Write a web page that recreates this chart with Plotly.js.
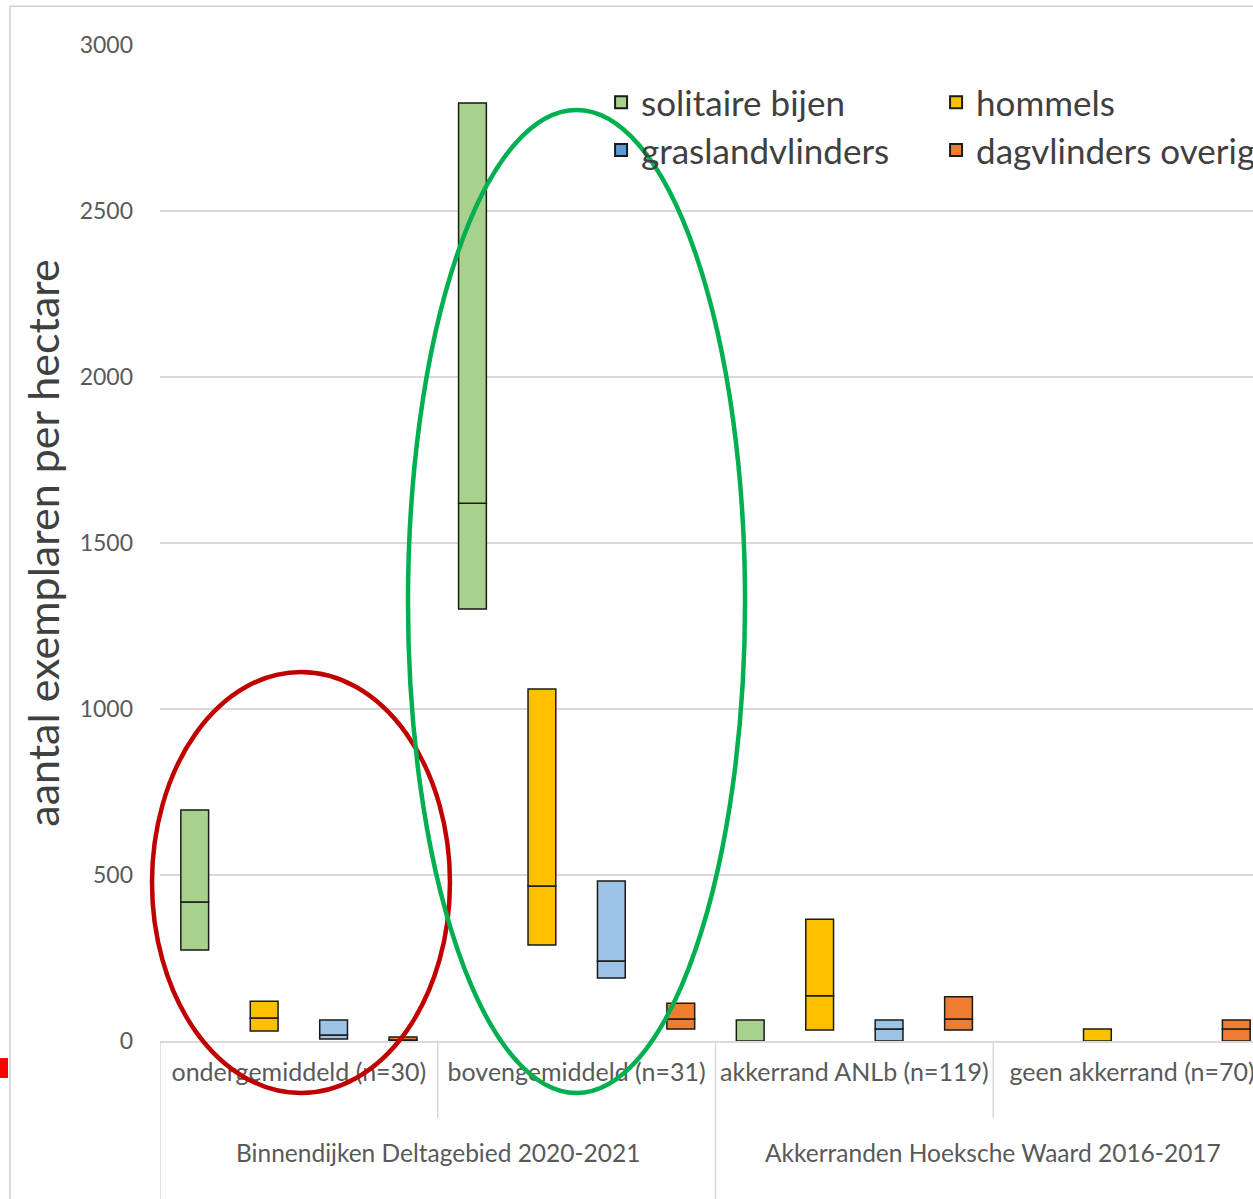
<!DOCTYPE html>
<html>
<head>
<meta charset="utf-8">
<script src="https://cdn.plot.ly/plotly-3.0.1.min.js"></script>
<style>
html,body{margin:0;padding:0;overflow:hidden;background:#fff;}
#chart{width:1300px;height:1199px;}
</style>
</head>
<body>
<div id="chart"></div>
<script>
// ---- data ----
var categories = ['ondergemiddeld (n=30)', 'bovengemiddeld (n=31)', 'akkerrand ANLb (n=119)', 'geen akkerrand (n=70)'];
var groups = ['Binnendijken Deltagebied 2020-2021', 'Akkerranden Hoeksche Waard 2016-2017'];
var seriesNames = ['solitaire bijen', 'hommels', 'graslandvlinders', 'dagvlinders overig'];

var bijenLow  = [274, 1301, 0, null];
var bijenMed  = [419, 1620, 0, null];
var bijenHigh = [696, 2825, 63, null];

var hommelsLow  = [30, 289, 33, 0];
var hommelsMed  = [69, 467, 136, 0];
var hommelsHigh = [120, 1060, 367, 36];

var grasLow  = [6, 190, 0, null];
var grasMed  = [18, 241, 36, null];
var grasHigh = [63, 482, 63, null];

var dagLow  = [0, 36, 33, 0];
var dagMed  = [3, 66, 66, 36];
var dagHigh = [12, 114, 133, 63];

// ---- styling ----
var barColors = ['#a9d18e', '#ffc000', '#9dc3e6', '#ed7d31'];
var legendColors = ['#a9d18e', '#ffc000', '#5b9bd5', '#ed7d31'];
var offsets = [-0.425, -0.175, 0.075, 0.325];
var barWidth = 0.1;
var FONT = 'Lato, "Open Sans", sans-serif';
var GREY = '#595959';

var lows = [bijenLow, hommelsLow, grasLow, dagLow];
var meds = [bijenMed, hommelsMed, grasMed, dagMed];
var highs = [bijenHigh, hommelsHigh, grasHigh, dagHigh];

function diff(a, b) {
  return a.map(function (v, i) {
    if (v === null || b[i] === null) return null;
    var d = b[i] - v;
    return d > 0 ? d : null;
  });
}

var traces = [];
for (var s = 0; s < 4; s++) {
  // lower part: low -> median
  traces.push({
    type: 'bar', x: categories, base: lows[s], y: diff(lows[s], meds[s]),
    width: barWidth, offset: offsets[s], showlegend: false, hoverinfo: 'skip',
    marker: {color: barColors[s], line: {color: '#1a1a1a', width: 1.5}}
  });
  // upper part: median -> high
  traces.push({
    type: 'bar', x: categories, base: meds[s], y: diff(meds[s], highs[s]),
    width: barWidth, offset: offsets[s], showlegend: false, hoverinfo: 'skip',
    marker: {color: barColors[s], line: {color: '#1a1a1a', width: 1.5}}
  });
}
// legend entries
for (var s = 0; s < 4; s++) {
  traces.push({
    type: 'bar', x: [null], y: [null], name: seriesNames[s],
    legend: s < 2 ? 'legend' : 'legend2',
    marker: {color: legendColors[s], line: {color: '#1a1a1a', width: 2}}
  });
}

var legendCommon = {
  orientation: 'h', xanchor: 'left', yanchor: 'top',
  font: {family: FONT, size: 35, color: '#404040'},
  bgcolor: 'rgba(0,0,0,0)', entrywidth: 290, itemwidth: 30
};

var shapes = [
  // outer frame
  {type: 'rect', xref: 'paper', yref: 'paper', x0: -0.135, x1: 1.3, y0: -0.3, y1: 1.039,
   line: {color: '#d0d0d0', width: 1.5}, fillcolor: 'rgba(0,0,0,0)', layer: 'below'},
  // inner dividers
  {type: 'line', xref: 'x', yref: 'paper', x0: 0.5, x1: 0.5, y0: 0, y1: -0.0773, line: {color: '#d9d9d9', width: 1.5}},
  {type: 'line', xref: 'x', yref: 'paper', x0: 2.5, x1: 2.5, y0: 0, y1: -0.0773, line: {color: '#d9d9d9', width: 1.5}},
  // outer dividers
  {type: 'line', xref: 'x', yref: 'paper', x0: -0.5, x1: -0.5, y0: 0, y1: -0.2, line: {color: '#d9d9d9', width: 1.5}},
  {type: 'line', xref: 'x', yref: 'paper', x0: 1.5, x1: 1.5, y0: 0, y1: -0.2, line: {color: '#d9d9d9', width: 1.5}},
  // red marker at left edge
  {type: 'rect', xref: 'paper', yref: 'paper', x0: -0.1445, x1: -0.1368, y0: -0.0371, y1: -0.0171,
   line: {width: 0}, fillcolor: '#ff0000'},
  // red ellipse
  {type: 'circle', xref: 'paper', yref: 'paper', x0: -0.0072, x1: 0.261, y0: -0.0522, y1: 0.3705,
   line: {color: '#c00000', width: 4.5}, fillcolor: 'rgba(0,0,0,0)'},
  // green ellipse
  {type: 'circle', xref: 'paper', yref: 'paper', x0: 0.2232, x1: 0.5266, y0: -0.0522, y1: 0.9347,
   line: {color: '#00b050', width: 4.5}, fillcolor: 'rgba(0,0,0,0)'}
];

var annotations = [
  {x: 0.5, y: -0.1124, xref: 'x', yref: 'paper', text: groups[0], showarrow: false,
   font: {family: FONT, size: 24.5, color: GREY}, xanchor: 'center', yanchor: 'middle'},
  {x: 2.5, y: -0.1124, xref: 'x', yref: 'paper', text: groups[1], showarrow: false,
   font: {family: FONT, size: 24.5, color: GREY}, xanchor: 'center', yanchor: 'middle'}
];

var layout = {
  width: 1300, height: 1199,
  margin: {l: 160, r: 29, t: 45, b: 158},
  paper_bgcolor: '#ffffff', plot_bgcolor: '#ffffff',
  barmode: 'overlay',
  showlegend: true,
  legend: Object.assign({x: 0.397, y: 0.972}, legendCommon),
  legend2: Object.assign({x: 0.397, y: 0.924}, legendCommon),
  xaxis: {
    type: 'category', range: [-0.5, 3.5], showgrid: false,
    showline: true, linecolor: '#d9d9d9', linewidth: 1.5,
    ticks: '', ticklabelstandoff: 8,
    tickfont: {family: FONT, size: 25, color: GREY},
    zeroline: false, fixedrange: true
  },
  yaxis: {
    range: [0, 3000], dtick: 500, tick0: 0,
    showgrid: true, gridcolor: '#d9d9d9', gridwidth: 1.5,
    zeroline: false, showline: false, ticks: '',
    ticklabelstandoff: 26,
    tickfont: {family: FONT, size: 23, color: GREY},
    title: {text: 'aantal exemplaren per hectare', font: {family: FONT, size: 43, color: '#404040'}, standoff: 6}
  },
  shapes: shapes,
  annotations: annotations
};

Plotly.newPlot('chart', traces, layout, {displayModeBar: false, staticPlot: true});
</script>
</body>
</html>
